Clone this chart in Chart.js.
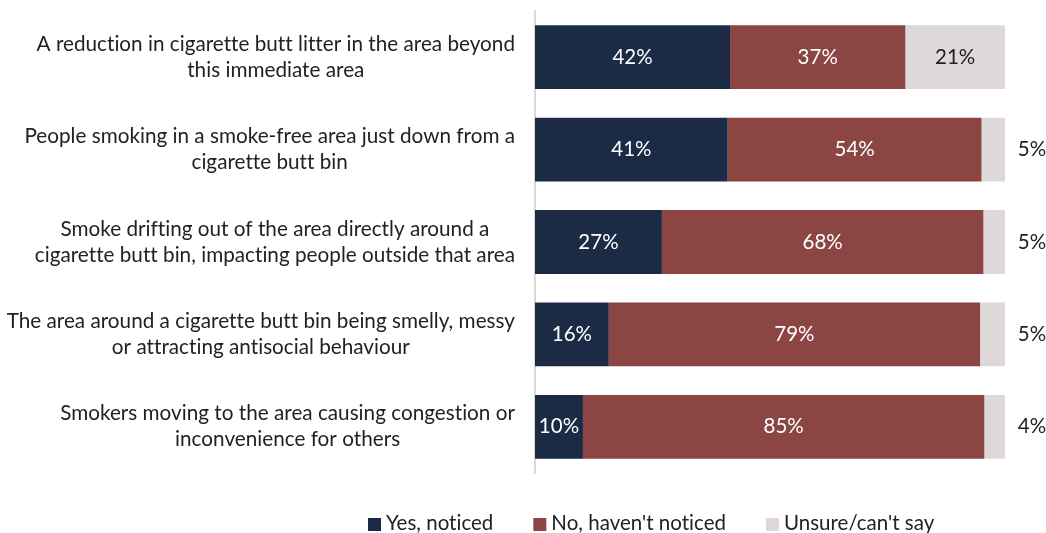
<!DOCTYPE html>
<html>
<head>
<meta charset="utf-8">
<script src="https://cdn.jsdelivr.net/npm/chart.js@4"></script>
<style>
html,body{margin:0;padding:0;background:#fff;}
#wrap{width:1046px;height:533px;position:relative;}
</style>
</head>
<body>
<div id="wrap"><canvas id="c" width="1046" height="533"></canvas></div>
<script>
const categories = [
  ["A reduction in cigarette butt litter in the area beyond", "this immediate area"],
  ["People smoking in a smoke-free area just down from a", "cigarette butt bin"],
  ["Smoke drifting out of the area directly around a", "cigarette butt bin, impacting people outside that area"],
  ["The area around a cigarette butt bin being smelly, messy", "or attracting antisocial behaviour"],
  ["Smokers moving to the area causing congestion or", "inconvenience for others"]
];
const seriesNames = ["Yes, noticed", "No, haven't noticed", "Unsure/can't say"];
const yesNoticed = [41.5, 41, 27, 15.7, 10.2];
const noNoticed = [37.3, 54, 68.4, 79, 85.4];
const unsure = [21.2, 5, 4.6, 5.3, 4.4];
const colors = ["#1b2a45", "#8b4644", "#ded8d8"];

const FONT = "Lato, 'Noto Sans', sans-serif";
const TEXT = "#222222";

const labelPlugin = {
  id: 'customDraw',
  afterDatasetsDraw(chart) {
    const ctx = chart.ctx;
    ctx.save();
    if ('letterSpacing' in ctx) ctx.letterSpacing = "0.01px";
    ctx.font = "20.5px " + FONT;
    ctx.textBaseline = "middle";
    ctx.textAlign = "center";
    chart.data.datasets.forEach((ds, i) => {
      const meta = chart.getDatasetMeta(i);
      meta.data.forEach((bar, j) => {
        const v = ds.data[j];
        const p = bar.getProps(['x', 'base', 'y'], true);
        const txt = Math.round(v) + "%";
        if (v < 8) {
          ctx.fillStyle = TEXT;
          ctx.fillText(txt, p.x + 27, p.y);
        } else {
          ctx.fillStyle = i < 2 ? "#ffffff" : TEXT;
          ctx.fillText(txt, (p.x + p.base) / 2, p.y);
        }
      });
    });
    // category labels
    const ys = chart.scales.y;
    ctx.fillStyle = TEXT;
    ctx.font = "20.7px " + FONT;
    categories.forEach((lines, j) => {
      const cy = ys.getPixelForValue(j);
      let maxW = 0;
      lines.forEach(l => { maxW = Math.max(maxW, ctx.measureText(l).width); });
      const cx = 515 - maxW / 2;
      const lh = 26;
      const start = cy - (lines.length - 1) * lh / 2;
      lines.forEach((l, k) => ctx.fillText(l, cx, start + k * lh));
    });
    // legend
    ctx.font = "20.5px " + FONT;
    ctx.textAlign = "left";
    let x = 368;
    const ly = 523;
    chart.data.datasets.forEach((ds, i) => {
      ctx.fillStyle = colors[i];
      ctx.fillRect(x, 518, 13, 13);
      ctx.fillStyle = TEXT;
      ctx.fillText(ds.label, x + 18, ly);
      x += 18 + ctx.measureText(ds.label).width + 40;
    });
    ctx.restore();
  }
};

new Chart(document.getElementById('c'), {
  type: 'bar',
  data: {
    labels: categories,
    datasets: [
      { label: seriesNames[0], data: yesNoticed, backgroundColor: colors[0] },
      { label: seriesNames[1], data: noNoticed, backgroundColor: colors[1] },
      { label: seriesNames[2], data: unsure, backgroundColor: colors[2] }
    ]
  },
  options: {
    indexAxis: 'y',
    responsive: false,
    animation: false,
    devicePixelRatio: 1,
    layout: { padding: { top: 11, right: 41, bottom: 60, left: 0 } },
    datasets: { bar: { barPercentage: 0.69, categoryPercentage: 1, borderWidth: 0 } },
    plugins: { legend: { display: false }, tooltip: { enabled: false } },
    scales: {
      x: { stacked: true, min: 0, max: 100, display: false },
      y: {
        stacked: true,
        grid: { display: false, drawTicks: false },
        border: { display: true, color: "#d9d9d9", width: 2 },
        ticks: { display: false },
        afterFit(scale) { scale.width = 535; }
      }
    }
  },
  plugins: [labelPlugin]
});
</script>
</body>
</html>
